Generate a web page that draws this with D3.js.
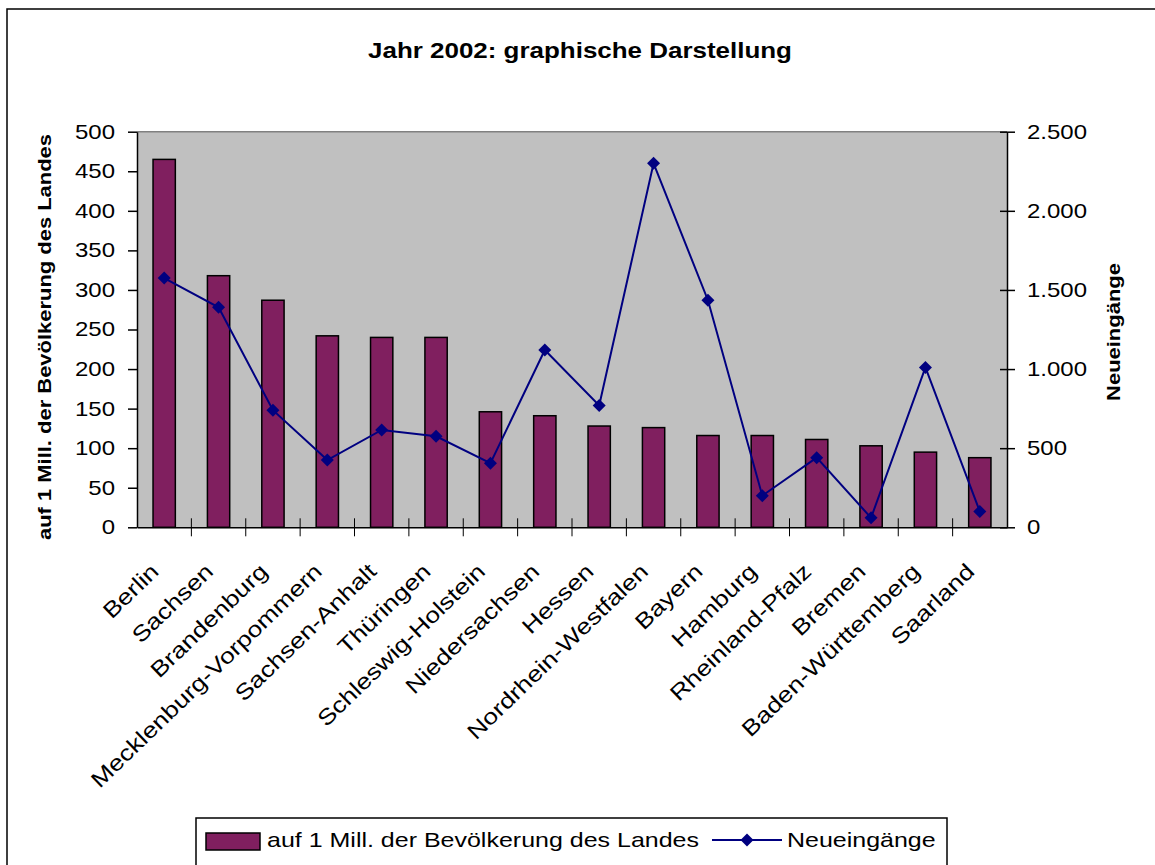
<!DOCTYPE html>
<html>
<head>
<meta charset="utf-8">
<script src="https://d3js.org/d3.v7.min.js"></script>
<style>
  body { margin: 0; background: #fff; }
  text { font-family: "Liberation Sans", Arial, sans-serif; }
</style>
</head>
<body>
<div id="chart"></div>
<script>
// the data
var states = ["Berlin", "Sachsen", "Brandenburg", "Mecklenburg-Vorpommern", "Sachsen-Anhalt",
  "Thüringen", "Schleswig-Holstein", "Niedersachsen", "Hessen", "Nordrhein-Westfalen", "Bayern",
  "Hamburg", "Rheinland-Pfalz", "Bremen", "Baden-Württemberg", "Saarland"];
var perMillion = [465, 318, 287, 242, 240, 240, 146, 141, 128, 126, 116, 116, 111, 103, 95, 88];
var neueingaenge = [1575, 1390, 740, 425, 615, 575, 405, 1120, 770, 2300, 1435, 200, 440, 60, 1010, 100];
var leftTicks = [0, 50, 100, 150, 200, 250, 300, 350, 400, 450, 500];
var rightTicks = [0, 500, 1000, 1500, 2000, 2500];
var chartTitle = "Jahr 2002: graphische Darstellung";
var barName = "auf 1 Mill. der Bevölkerung des Landes";
var lineName = "Neueingänge";

function init(){

  var w = 1155;
  var h = 865;
  // plot area edges
  var left = 137, right = 1007, top = 131.7, bottom = 527.3;
  var barColor = "#801f5f";
  var lineColor = "#000080";
  // the text in the picture is drawn a bit wider than normal
  var sx = 1.2;

  var svg = d3.select("#chart")
    .append("svg")
      .attr("width", w)
      .attr("height", h);

  // outer frame of the chart
  svg.append("rect")
    .attr("x", 7).attr("y", 9)
    .attr("width", 1170).attr("height", 890)
    .attr("fill", "none")
    .attr("stroke", "#000")
    .attr("stroke-width", 1.5);

  // title
  svg.append("text")
    .attr("transform", "translate(580,58) scale(1.18,1)")
    .attr("text-anchor", "middle")
    .style("font-size", "22px")
    .style("font-weight", "bold")
    .text(chartTitle);

  // scales
  var x = d3.scaleBand().domain(states).range([left, right]);
  var y = d3.scaleLinear().domain([0, 500]).range([bottom, top]);
  var y2 = d3.scaleLinear().domain([0, 2500]).range([bottom, top]);
  var bw = x.bandwidth() * 0.41;
  var cx = function(d){ return x(d) + x.bandwidth() / 2; };

  // grey plot background + grey top border
  svg.append("rect")
    .attr("x", left).attr("y", top)
    .attr("width", right - left).attr("height", bottom - top)
    .attr("fill", "#c0c0c0");
  svg.append("line")
    .attr("x1", left).attr("x2", right)
    .attr("y1", top).attr("y2", top)
    .attr("stroke", "#808080").attr("stroke-width", 1.5);

  // bars
  svg.append("g")
    .selectAll("rect")
    .data(states)
    .enter().append("rect")
      .attr("x", function(d){ return cx(d) - bw / 2; })
      .attr("y", function(d, i){ return y(perMillion[i]); })
      .attr("width", bw)
      .attr("height", function(d, i){ return bottom - y(perMillion[i]); })
      .attr("fill", barColor)
      .attr("stroke", "#000")
      .attr("stroke-width", 1.5);

  // left axis
  var gl = svg.append("g")
    .attr("transform", "translate(" + left + ",0)")
    .call(d3.axisLeft(y).tickValues(leftTicks).tickSize(9).tickSizeOuter(0));
  gl.selectAll("text")
    .attr("x", -22 / sx)
    .attr("transform", "scale(" + sx + ",1)");

  // right axis, german number format
  var de = d3.formatLocale({decimal: ",", thousands: ".", grouping: [3], currency: ["", " €"]});
  var gr = svg.append("g")
    .attr("transform", "translate(" + right + ",0)")
    .call(d3.axisRight(y2).tickValues(rightTicks).tickSize(8).tickSizeOuter(0).tickFormat(de.format(",")));
  gr.selectAll(".tick line").attr("x1", -7);
  gr.selectAll("text")
    .attr("x", 20 / sx)
    .attr("transform", "scale(" + sx + ",1)");

  // bottom axis with the rotated state names
  var gb = svg.append("g")
    .attr("transform", "translate(0," + bottom + ")")
    .call(d3.axisBottom(x).tickSize(0).tickSizeOuter(0));
  // excel puts the ticks between the categories
  svg.append("g")
    .selectAll("line")
    .data(states.slice(1))
    .enter().append("line")
      .attr("x1", function(d){ return x(d); })
      .attr("x2", function(d){ return x(d); })
      .attr("y1", bottom - 9).attr("y2", bottom + 9)
      .attr("stroke", "#000");

  [gl, gr, gb].forEach(function(g){
    g.attr("font-size", 20).attr("font-family", null);
    g.selectAll("path, line").attr("stroke", "#000").attr("stroke-width", 1.5);
    g.selectAll("text").attr("fill", "#000");
  });

  gb.selectAll("text")
    .attr("y", 0).attr("dy", 0)
    .attr("text-anchor", "end")
    .style("font-size", "22px")
    .attr("transform", "translate(-4," + (573 - bottom) + ") rotate(-44) scale(1.2,1)");

  // axis titles
  svg.append("text")
    .attr("transform", "translate(51,337) rotate(-90) scale(1.22,1)")
    .attr("text-anchor", "middle")
    .style("font-size", "18px")
    .style("font-weight", "bold")
    .text(barName);
  svg.append("text")
    .attr("transform", "translate(1120,332) rotate(-90) scale(1.22,1)")
    .attr("text-anchor", "middle")
    .style("font-size", "18px")
    .style("font-weight", "bold")
    .text(lineName);

  // line for Neueingänge on the right axis
  var line = d3.line()
    .x(function(d, i){ return cx(states[i]); })
    .y(function(d){ return y2(d); });
  svg.append("path")
    .datum(neueingaenge)
    .attr("d", line)
    .attr("fill", "none")
    .attr("stroke", lineColor)
    .attr("stroke-width", 2);

  var diamond = d3.symbol().type(d3.symbolSquare).size(85);
  svg.append("g")
    .selectAll("path")
    .data(neueingaenge)
    .enter().append("path")
      .attr("d", diamond)
      .attr("transform", function(d, i){ return "translate(" + cx(states[i]) + "," + y2(d) + ") rotate(45)"; })
      .attr("fill", lineColor);

  // legend
  svg.append("rect")
    .attr("x", 196).attr("y", 818)
    .attr("width", 751).attr("height", 80)
    .attr("fill", "#fff")
    .attr("stroke", "#000")
    .attr("stroke-width", 1.5);
  svg.append("rect")
    .attr("x", 206).attr("y", 833)
    .attr("width", 54).attr("height", 17)
    .attr("fill", barColor)
    .attr("stroke", "#000")
    .attr("stroke-width", 1.5);
  svg.append("text")
    .attr("transform", "translate(267,847) scale(1.19,1)")
    .style("font-size", "21px")
    .text(barName);
  svg.append("line")
    .attr("x1", 712).attr("x2", 782)
    .attr("y1", 840).attr("y2", 840)
    .attr("stroke", lineColor).attr("stroke-width", 2);
  svg.append("path")
    .attr("d", diamond)
    .attr("transform", "translate(747,840) rotate(45)")
    .attr("fill", lineColor);
  svg.append("text")
    .attr("transform", "translate(787,847) scale(1.19,1)")
    .style("font-size", "21px")
    .text(lineName);
}
window.onload = init;
</script>
</body>
</html>
